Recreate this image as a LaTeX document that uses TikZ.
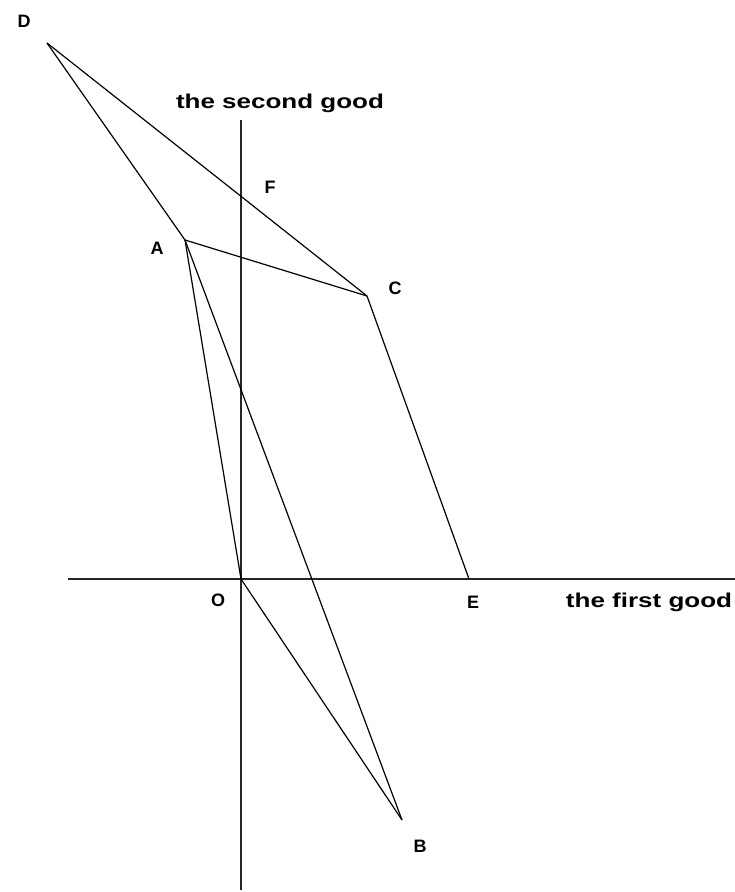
\documentclass[tikz,border=0pt]{standalone}
\usepackage{fontspec}
\setmainfont{Liberation Sans}
\usetikzlibrary{calc}
\tikzset{
  seg/.style={line width=1.2pt, black},
  axisline/.style={line width=1.2pt, black!85},
  ptlabel/.style={font=\bfseries\fontsize{18}{20}\selectfont, inner sep=0pt},
  axlabel/.style={font=\bfseries\fontsize{20}{22}\selectfont, inner sep=0pt}
}
\begin{document}
\begin{tikzpicture}[x=1pt,y=1pt]
\useasboundingbox (0,0) rectangle (735,892);
% points
\coordinate (D) at (47,849);
\coordinate (A) at (185,652);
\coordinate (C) at (367,596);
\coordinate (O) at (241,313);
\coordinate (E) at (469,313);
\coordinate (B) at (402,72);
\coordinate (ytop) at (241,772);
\coordinate (ybot) at (241,2);
\coordinate (xleft) at (68,313);
\coordinate (xright) at (735,313);
\coordinate (F) at (intersection of D--C and ytop--ybot);
% axes
\draw[axisline] (ybot) -- (ytop);
\draw[axisline] (xleft) -- (xright);
% segments
\draw[seg] (D) -- (A);
\draw[seg] (D) -- (F) -- (C);
\draw[seg] (A) -- (C);
\draw[seg] (C) -- (E);
\draw[seg] (A) -- (O);
\draw[seg] (A) -- (B);
\draw[seg] (O) -- (B);
% labels
\node[ptlabel] (lD) at (24,871) {D};
\node[ptlabel] (lF) at (270,705) {F};
\node[ptlabel] (lA) at (157,644) {A};
\node[ptlabel] (lC) at (395,604) {C};
\node[ptlabel] (lO) at (218,292) {O};
\node[ptlabel] (lE) at (473,290) {E};
\node[ptlabel] (lB) at (420,46) {B};
\node[axlabel] (ly) at (280,789) {\scalebox{1.3}[1]{the second good}};
\node[axlabel] (lx) at (649,290) {\scalebox{1.3}[1]{the first good}};
\end{tikzpicture}
\end{document}
